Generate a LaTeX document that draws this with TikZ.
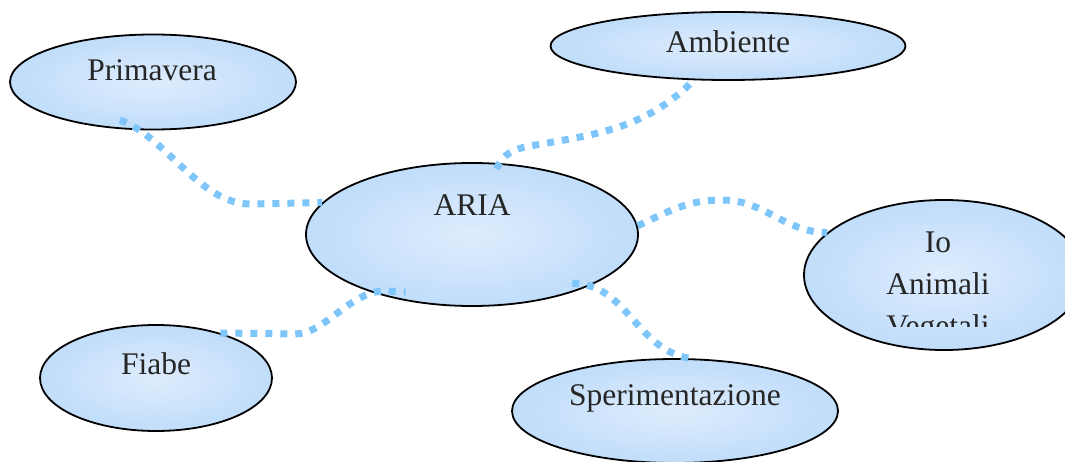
\documentclass[tikz,border=0pt]{standalone}
\usepackage{fontspec}
\setmainfont{Liberation Serif}
\usetikzlibrary{shapes.geometric}
\definecolor{cloudlight}{RGB}{222,236,253}
\definecolor{clouddark}{RGB}{192,221,250}
\definecolor{linkblue}{RGB}{126,197,250}

\begin{document}
\begin{tikzpicture}[x=1pt, y=1pt,
    bubble/.style = {shape=ellipse, draw, line width=1.8pt,
      inner sep=0pt, inner color=cloudlight, outer color=clouddark},
    word/.style = {inner sep=0pt, text=black!85, align=center,
      font=\fontsize{31.5}{42}\selectfont},
    link/.style = {draw=linkblue, line width=7pt,
      dash pattern=on 7pt off 8pt}]
    \useasboundingbox (0,0) rectangle (1065,461);

    % bubbles
    \node[bubble, minimum width=286pt, minimum height=95pt] (prim) at (153,379) {};
    \node[bubble, minimum width=355pt, minimum height=68pt] (amb) at (728,415) {};
    \node[bubble, minimum width=332pt, minimum height=143pt] (aria) at (472,226.5) {};
    \node[bubble, minimum width=280pt, minimum height=150pt] (io) at (944,186) {};
    \node[bubble, minimum width=232pt, minimum height=106pt] (fiabe) at (156,83) {};
    \node[bubble, minimum width=326pt, minimum height=104pt] (sper) at (675,50) {};

    % texts
    \node[word, anchor=base] (primtext) at (152,380) {Primavera};
    \node[word, anchor=base] (ambtext) at (728,408) {Ambiente};
    \node[word, anchor=base] (ariatext) at (472,245) {ARIA};
    \node[word, anchor=base] (fiabetext) at (156,86.5) {Fiabe};
    \node[word, anchor=base] (spertext) at (675,56) {Sperimentazione};
    \begin{scope}
      \clip (800,135) rectangle (1065,240);
      \node[word, anchor=north] (iotext) at (938,229) {Io\\Animali\\Vegetali};
    \end{scope}

    % links
    \draw[link] ([yshift=9pt]prim.235) .. controls (165,325) and (200,257)
      .. (250,257) -- (aria.168.5);
    \draw[link] ([yshift=-6pt]aria.71) to[out=70,in=190] (530,315)
      to[out=10,in=225] (amb.225);
    \draw[link] (aria.3) to[out=25,in=180] (722,261)
      to[out=0,in=180] (io.160);
    \draw[link] ([yshift=9pt]aria.-30) to[out=0,in=170] (sper.75);
    \draw[link] (fiabe.35) -- (295,127) .. controls (325,127) and (350,170)
      .. (385,170) -- ([yshift=9pt]aria.225);
\end{tikzpicture}
\end{document}
